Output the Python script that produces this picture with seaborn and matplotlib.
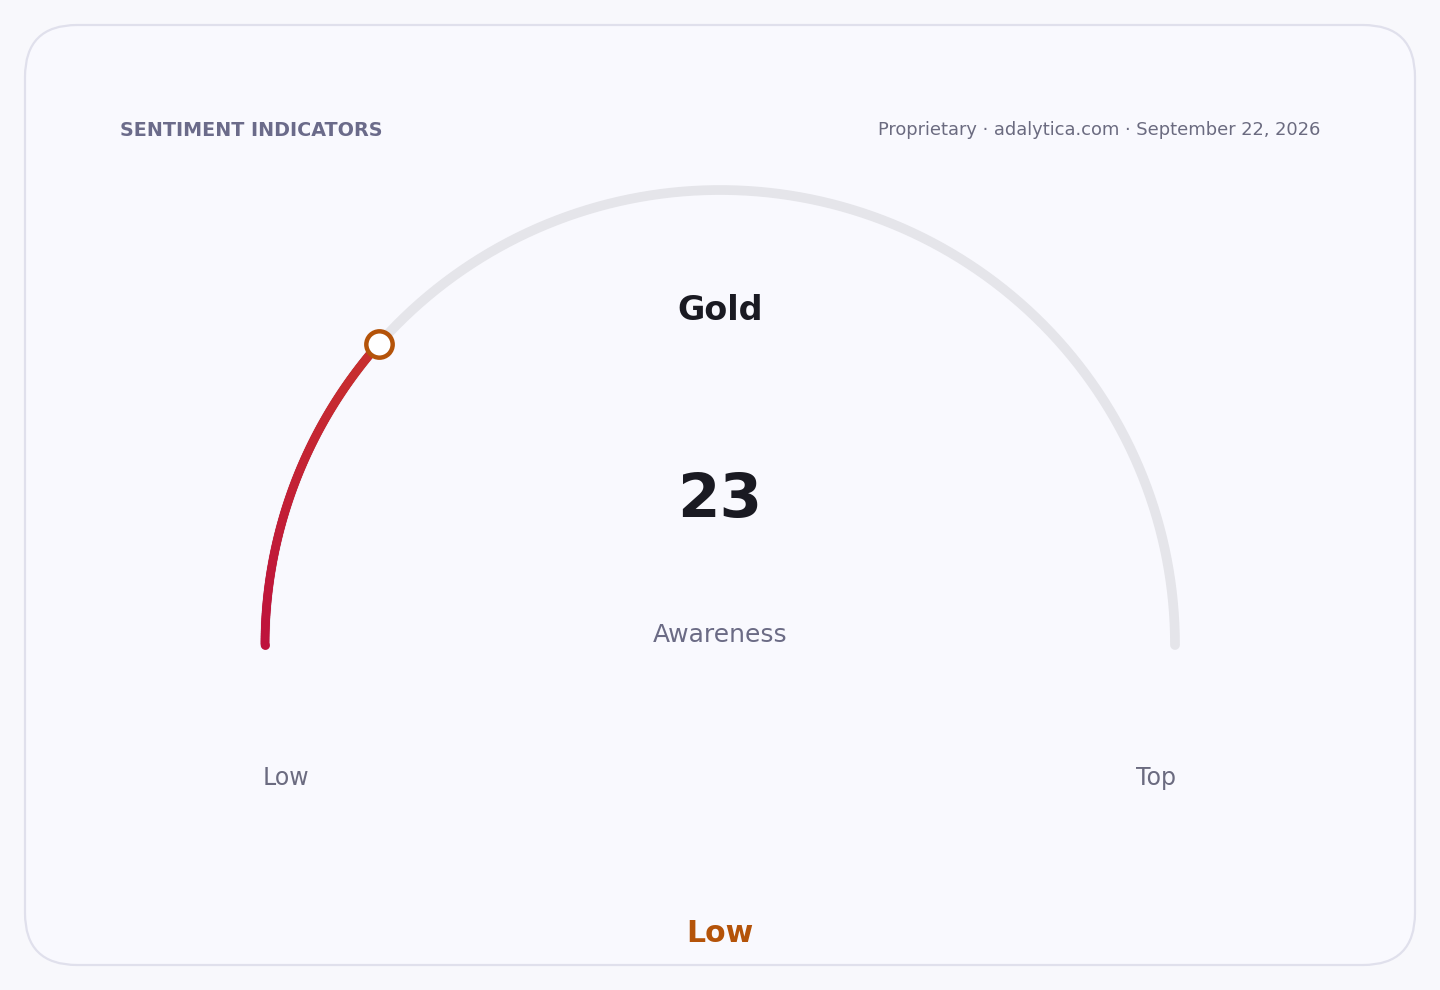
import numpy as np
import pandas as pd
import matplotlib
matplotlib.use("Agg")
import matplotlib.pyplot as plt
import seaborn as sns
from matplotlib.collections import LineCollection
from matplotlib.patches import FancyBboxPatch
from matplotlib.colors import LinearSegmentedColormap

# ---- data ----
title = "SENTIMENT INDICATORS"
source = "Proprietary · adalytica.com · September 22, 2026"
asset = "Gold"
value = 23
gauge_min = 0
gauge_max = 100
metric = "Awareness"
scale_labels = ["Low", "Top"]
status = "Low"

sns.set_theme(style="white")
plt.rcParams['font.family'] = ['DejaVu Sans']

W, H = 1440, 990
fig = plt.figure(figsize=(W / 100, H / 100), dpi=100)
fig.patch.set_facecolor("#f8f8fc")
ax = fig.add_axes([0, 0, 1, 1])
ax.set_xlim(0, W)
ax.set_ylim(H, 0)
ax.set_aspect("equal")
ax.axis("off")

card = FancyBboxPatch((25, 25), 1390, 940, boxstyle="round,pad=0,rounding_size=52",
                      facecolor="#f9f9fe", edgecolor="#e0e0ec", linewidth=1.6, zorder=0)
ax.add_patch(card)

cx, cy, r = 720, 645, 455

# background track
theta = np.linspace(np.pi, 0, 400)
track = pd.DataFrame({"x": cx + r * np.cos(theta), "y": cy - r * np.sin(theta)})
sns.lineplot(data=track, x="x", y="y", sort=False, ax=ax, color="#e5e5ea",
             linewidth=7, solid_capstyle="round", zorder=1)

# value arc with gradient
frac = (value - gauge_min) / (gauge_max - gauge_min)
tv = np.linspace(np.pi, np.pi - frac * np.pi, 200)
xs = cx + r * np.cos(tv)
ys = cy - r * np.sin(tv)
pts = np.column_stack([xs, ys]).reshape(-1, 1, 2)
segs = np.concatenate([pts[:-1], pts[1:]], axis=1)
cmap = LinearSegmentedColormap.from_list("g", ["#be123c", "#c8302e"])
lc = LineCollection(segs, colors=cmap(np.linspace(0, 1, len(segs))), linewidth=6.2,
                    capstyle="round", zorder=2)
ax.add_collection(lc)
ax.scatter([xs[0]], [ys[0]], s=40, color="#be123c", zorder=2, linewidths=0)

# marker
sns.scatterplot(x=[xs[-1]], y=[ys[-1]], ax=ax, s=360, color="white",
                edgecolor="#b45309", linewidth=3.2, zorder=3)

# texts
ax.text(120, 130, title, fontsize=13.8, fontweight="bold", color="#6b6b8a",
        ha="left", va="center")
ax.text(1320, 130, source, fontsize=12.9, color="#6b6b80", ha="right", va="center")
ax.text(720, 310, asset, fontsize=24, fontweight="bold", color="#1a1a22",
        ha="center", va="center")
ax.text(720, 500, str(value), fontsize=44, fontweight="bold", color="#1a1a22",
        ha="center", va="center")
ax.text(720, 634.5, metric, fontsize=18, color="#6b6b85", ha="center", va="center")
ax.text(286, 778, scale_labels[0], fontsize=17, color="#6b6b80", ha="center", va="center")
ax.text(1156, 778, scale_labels[1], fontsize=17, color="#6b6b80", ha="center", va="center")
ax.text(720, 933, status, fontsize=21.5, fontweight="bold", color="#b45309",
        ha="center", va="center")

leg = ax.get_legend()
if leg:
    leg.remove()

fig.savefig("out.png", dpi=100, facecolor=fig.get_facecolor())
